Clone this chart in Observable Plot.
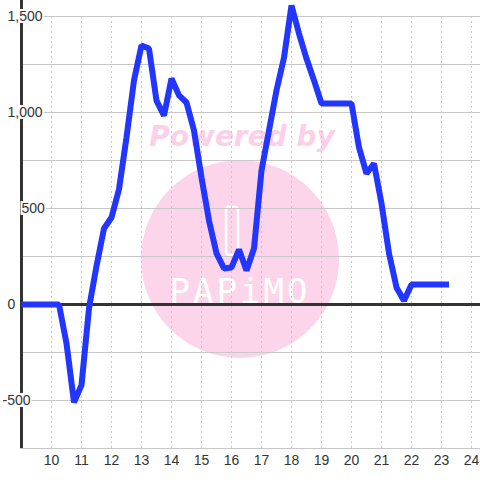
<!DOCTYPE html>
<html><head><meta charset="utf-8">
<script src="https://cdn.jsdelivr.net/npm/d3@7"></script>
<script src="https://cdn.jsdelivr.net/npm/@observablehq/plot@0.6"></script>
<style>
body{margin:0;background:#fff;font-family:"Liberation Sans",Arial,sans-serif}
#wrap{position:relative;width:480px;height:480px;background:#fff}
#wm,#chart{position:absolute;left:0;top:0}
</style></head><body>
<div id="wrap">
<svg id="wm" width="480" height="480">
  <circle cx="240" cy="259" r="99" fill="#fcd5eb"></circle>
  <text x="242" y="146" text-anchor="middle" font-family="DejaVu Sans" font-weight="bold" font-style="italic" font-size="28" fill="#fbd0e8">Powered by</text>
  <rect x="226" y="207" width="12" height="48" rx="3" fill="none" stroke="#fff" stroke-width="2.5"></rect>
  <text x="240" y="303" text-anchor="middle" font-family="DejaVu Sans Mono" font-size="34" letter-spacing="3" fill="#fff">PAPiMO</text>
</svg>
<div id="chart"></div>
</div>
<script>
const times = [9.0, 10.25, 10.5, 10.75, 11.0, 11.25, 11.5, 11.75, 12.0, 12.25, 12.5, 12.75, 13.0, 13.25, 13.5, 13.75, 14.0, 14.25, 14.5, 14.75, 15.0, 15.25, 15.5, 15.75, 16.0, 16.25, 16.5, 16.75, 17.0, 17.25, 17.5, 17.75, 18.0, 18.25, 18.5, 18.75, 19.0, 20.0, 20.25, 20.5, 20.75, 21.0, 21.25, 21.5, 21.75, 22.0, 23.25];
const values = [0, 0, -203, -510, -420, -20, 200, 396, 453, 600, 870, 1167, 1349, 1333, 1062, 984, 1177, 1089, 1052, 906, 661, 437, 266, 188, 193, 286, 177, 292, 698, 906, 1115, 1286, 1557, 1411, 1281, 1167, 1047, 1047, 818, 682, 734, 526, 266, 89, 20, 104, 104];
const xTicks = [10, 11, 12, 13, 14, 15, 16, 17, 18, 19, 20, 21, 22, 23, 24];
const yTicks = [-500, 0, 500, 1000, 1500];
const yGrid = [-750, -500, -250, 0, 250, 500, 750, 1000, 1250, 1500];
const xDomain = [8.9667, 24.3];
const yDomain = [-750, 1583.3];

const data = times.map((t, i) => ({t, v: values[i]}));
const fmt = d3.format(",");
const yFmt = d => d < 0 ? "-" + fmt(-d) : fmt(d);

const labelOpts = {x: xDomain[0], y: d => d, text: yFmt, textAnchor: "start", fill: "#333", fontSize: 14};

const plot = Plot.plot({
  width: 480, height: 480,
  marginLeft: 20, marginRight: 0, marginTop: 0, marginBottom: 32,
  style: {background: "transparent", fontSize: "14px", fontFamily: "'Liberation Sans', Arial, sans-serif", color: "#333"},
  x: {domain: xDomain, ticks: xTicks, tickSize: 0, tickPadding: 7, tickFormat: d => String(d), label: null},
  y: {domain: yDomain, axis: null},
  marks: [
    Plot.ruleY(yGrid, {stroke: "#c8c8c8", strokeWidth: 1}),
    Plot.ruleX(xTicks, {y1: yGrid[0], y2: yGrid[yGrid.length - 1], stroke: "#c8c8c8", strokeDasharray: "2,3"}),
    Plot.ruleY([0], {stroke: "#333", strokeWidth: 3}),
    Plot.ruleX([xDomain[0]], {stroke: "#333", strokeWidth: 3, dx: 1}),
    Plot.text(yTicks.filter(d => d === 1500 || d === 1000 || d === 0), {...labelOpts, dx: -13}),
    Plot.text(yTicks.filter(d => d === 500), {...labelOpts, dx: 1}),
    Plot.text(yTicks.filter(d => d === -500), {...labelOpts, dx: -18}),
    Plot.line(data, {x: "t", y: "v", stroke: "#2236ff", strokeWidth: 6, strokeLinejoin: "miter", strokeLinecap: "butt"})
  ]
});
document.getElementById("chart").appendChild(plot);

// white label backgrounds behind the y tick labels
plot.querySelectorAll('g[aria-label="text"]').forEach(g => {
  g.querySelectorAll("text").forEach(t => {
    const b = t.getBBox();
    const r = document.createElementNS("http://www.w3.org/2000/svg", "rect");
    r.setAttribute("x", b.x - 1); r.setAttribute("y", b.y + 1);
    r.setAttribute("width", b.width + 2); r.setAttribute("height", b.height - 2);
    r.setAttribute("fill", "#fff");
    const tr = t.getAttribute("transform");
    if (tr) r.setAttribute("transform", tr);
    t.parentNode.insertBefore(r, t);
  });
});
</script>
</body></html>
